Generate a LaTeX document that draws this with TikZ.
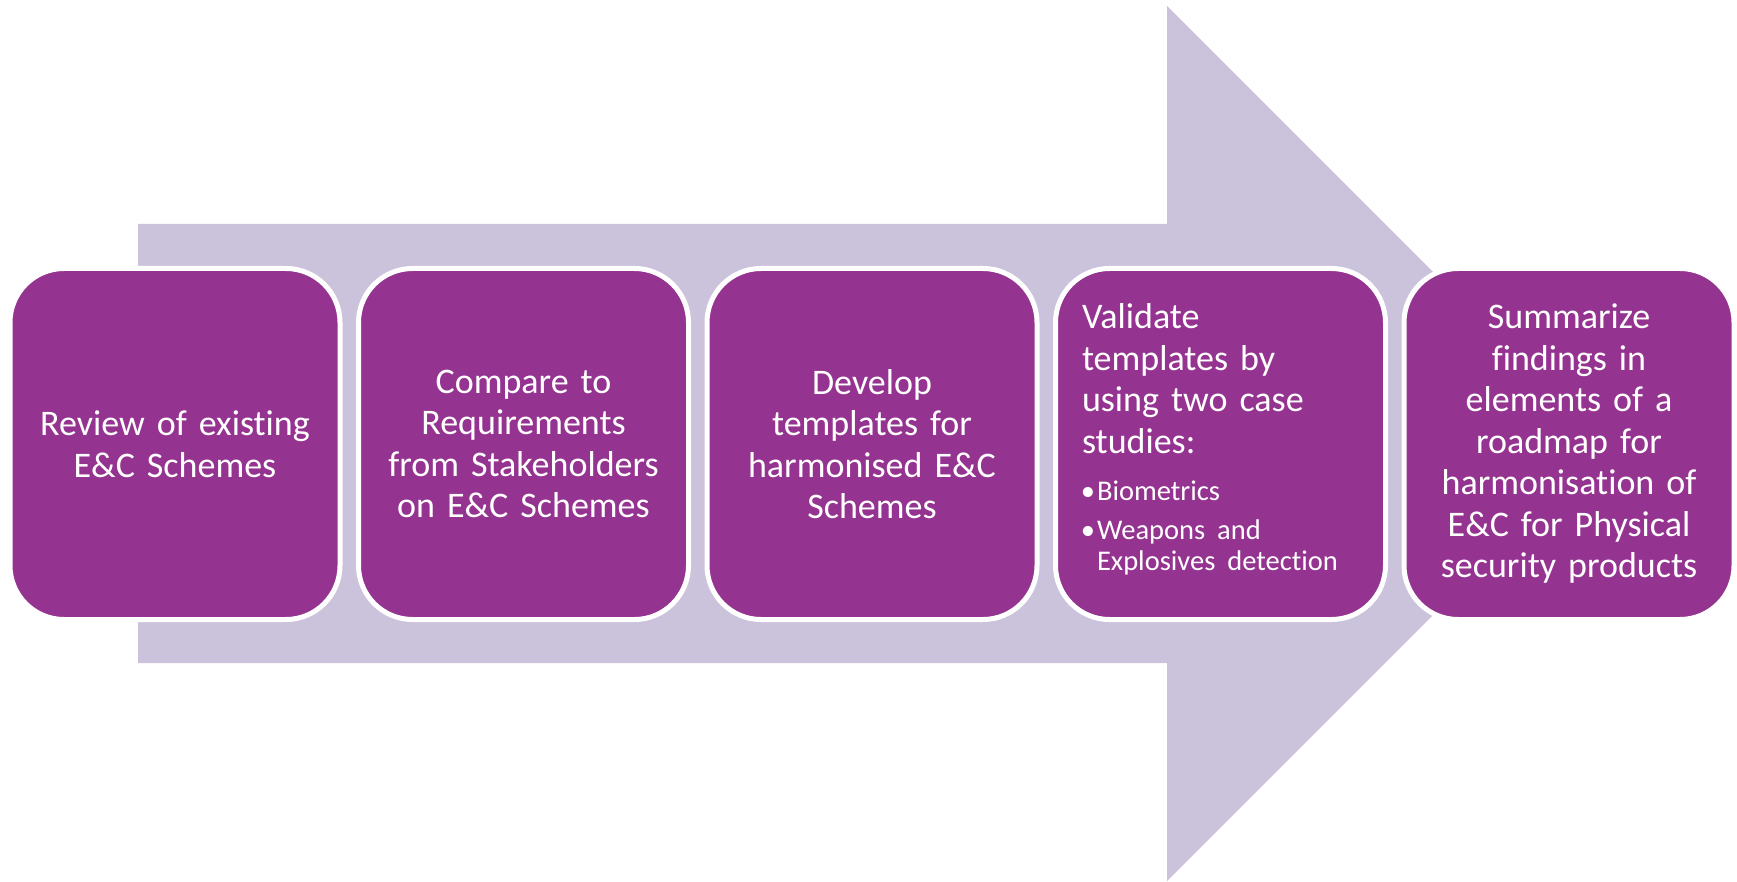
\documentclass[tikz,border=0pt]{standalone}
\usepackage{fontspec}
\setmainfont{Carlito}[Ligatures=NoCommon]
\definecolor{boxpurple}{RGB}{149,51,145}
\definecolor{arrowlilac}{RGB}{203,194,219}
\tikzset{
  stepbox/.style={draw=white, line width=5pt, fill=boxpurple, rounded corners=54pt,
    minimum width=330pt, minimum height=351pt, inner sep=0pt, text=white,
    text width=310pt, align=center, font=\fontsize{36}{41.5}\selectfont},
  bigarrow/.style={fill=arrowlilac, draw=none}
}
\begin{document}
\begin{tikzpicture}[x=1pt,y=-1pt]
\useasboundingbox (0,0) rectangle (1737,882);
\fill[white] (0,0) rectangle (1737,882);
\path[bigarrow] (138,224) -- (1167,224) -- (1167,6) -- (1604.5,443.5) -- (1167,881) -- (1167,663) -- (138,663) -- cycle;
\node[stepbox] (b1) at (175,444) {Review of existing\\E\&C Schemes};
\node[stepbox] (b2) at (523.5,444) {Compare to\\Requirements\\from Stakeholders\\on E\&C Schemes};
\node[stepbox] (b3) at (872,444) {Develop\\templates for\\harmonised E\&C\\Schemes};
\node[stepbox, minimum height=351pt] (b4) at (1220.5,444) {};
\node[text=white, text width=277pt, align=left, inner sep=0pt, font=\fontsize{36}{41.5}\selectfont] (t4) at (1220.5,439.5) {Validate\\templates by\\using two case\\studies:\par
  {\fontsize{28.5}{31}\selectfont\leftskip=15pt\rightskip=0pt plus 1fil\relax
   \vspace{16pt}\noindent\llap{•\hspace{2pt}}Biometrics\par
   \vspace{8pt}\noindent\llap{•\hspace{2pt}}Weapons and\newline Explosives detection\par}};
\node[stepbox] (b5) at (1569,444) {Summarize\\findings in\\elements of a\\roadmap for\\harmonisation of\\E\&C for Physical\\security products};
\end{tikzpicture}
\end{document}
